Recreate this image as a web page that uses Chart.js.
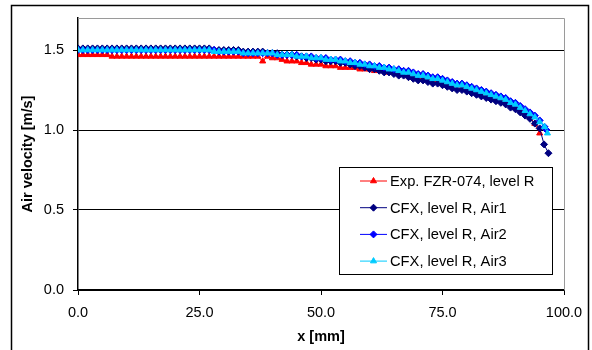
<!DOCTYPE html>
<html>
<head>
<meta charset="utf-8">
<script src="https://cdn.jsdelivr.net/npm/chart.js@4"></script>
<style>
    body { margin: 0; background: #ffffff; }
    #chartBox { position: relative; width: 592px; height: 350px; }
</style>
</head>
<body>
<div id="chartBox"><canvas id="velChart" width="592" height="350"></canvas></div>
<script>
// Datos
const seriesNames = ['Exp. FZR-074, level R', 'CFX, level R, Air1', 'CFX, level R, Air2', 'CFX, level R, Air3'];
const xTickValues = [0, 25, 50, 75, 100];
const yTickValues = [0, 0.5, 1.0, 1.5];

const xExp = [0,1,2,3,4,5,6,7,8,9,10,11,12,13,14,15,16,17,18,19,20,21,22,23,24,25,26,27,28,29,30,31,32,33,34,35,36,37,38,39,40,41,42,43,44,45,46,47,48,49,50,51,52,53,54,55,56,57,58,59,60,61,62,63,64,65,66,67,68,69,70,71,72,73,74,75,76,77,78,79,80,81,82,83,84,85,86,87,88,89,90,91,92,93,94,95];
const vExp = [
    1.47,1.47,1.47,1.47,1.47,1.47,1.47,1.46,1.46,1.46,
    1.46,1.46,1.46,1.46,1.46,1.46,1.46,1.46,1.46,1.46,
    1.46,1.46,1.46,1.46,1.46,1.46,1.46,1.46,1.46,1.46,
    1.46,1.46,1.46,1.46,1.46,1.46,1.46,1.46,1.43,1.46,
    1.45,1.45,1.44,1.43,1.43,1.43,1.42,1.42,1.41,1.41,
    1.41,1.40,1.40,1.40,1.39,1.39,1.39,1.39,1.38,1.38,
    1.38,1.37,1.37,1.37,1.36,1.36,1.36,1.35,1.35,1.34,
    1.34,1.33,1.32,1.32,1.31,1.30,1.29,1.28,1.28,1.27,
    1.26,1.25,1.24,1.23,1.22,1.21,1.20,1.19,1.18,1.16,
    1.15,1.13,1.11,1.08,1.04,0.98
];

const xAir1 = [0,1,2,3,4,5,6,7,8,9,10,11,12,13,14,15,16,17,18,19,20,21,22,23,24,25,26,27,28,29,30,31,32,33,34,35,36,37,38,39,40,41,42,43,44,45,46,47,48,49,50,51,52,53,54,55,56,57,58,59,60,61,62,63,64,65,66,67,68,69,70,71,72,73,74,75,76,77,78,79,80,81,82,83,84,85,86,87,88,89,90,91,92,93,94,95,95.9,96.8];
const vAir1 = [
    1.51,1.51,1.51,1.51,1.51,1.51,1.51,1.51,1.51,1.51,
    1.51,1.51,1.51,1.51,1.51,1.51,1.51,1.51,1.51,1.51,
    1.51,1.51,1.51,1.51,1.51,1.51,1.51,1.51,1.50,1.50,
    1.50,1.50,1.50,1.50,1.49,1.49,1.49,1.49,1.49,1.48,
    1.48,1.48,1.47,1.47,1.47,1.46,1.46,1.45,1.45,1.44,
    1.44,1.43,1.43,1.43,1.42,1.42,1.41,1.40,1.40,1.39,
    1.38,1.38,1.37,1.36,1.36,1.35,1.34,1.34,1.33,1.32,
    1.31,1.31,1.30,1.29,1.29,1.28,1.27,1.26,1.25,1.25,
    1.24,1.23,1.22,1.21,1.20,1.19,1.18,1.17,1.16,1.14,
    1.13,1.11,1.09,1.07,1.04,1.01,0.91,0.855
];

const xAir2 = [0,1,2,3,4,5,6,7,8,9,10,11,12,13,14,15,16,17,18,19,20,21,22,23,24,25,26,27,28,29,30,31,32,33,34,35,36,37,38,39,40,41,42,43,44,45,46,47,48,49,50,51,52,53,54,55,56,57,58,59,60,61,62,63,64,65,66,67,68,69,70,71,72,73,74,75,76,77,78,79,80,81,82,83,84,85,86,87,88,89,90,91,92,93,94,95,96,96.4];
const vAir2 = [
    1.50,1.50,1.50,1.50,1.50,1.50,1.50,1.50,1.50,1.50,
    1.50,1.50,1.50,1.50,1.50,1.50,1.50,1.50,1.50,1.50,
    1.50,1.50,1.50,1.50,1.50,1.50,1.50,1.50,1.50,1.49,
    1.49,1.49,1.49,1.49,1.48,1.48,1.48,1.48,1.48,1.48,
    1.48,1.47,1.47,1.47,1.47,1.47,1.46,1.46,1.46,1.45,
    1.45,1.45,1.44,1.44,1.44,1.43,1.43,1.42,1.42,1.41,
    1.41,1.40,1.40,1.39,1.39,1.38,1.38,1.37,1.37,1.36,
    1.35,1.35,1.34,1.33,1.33,1.32,1.31,1.30,1.29,1.29,
    1.28,1.27,1.26,1.25,1.24,1.23,1.22,1.21,1.20,1.18,
    1.17,1.15,1.13,1.11,1.09,1.06,1.02,1.00
];

const xAir3 = [0,1,2,3,4,5,6,7,8,9,10,11,12,13,14,15,16,17,18,19,20,21,22,23,24,25,26,27,28,29,30,31,32,33,34,35,36,37,38,39,40,41,42,43,44,45,46,47,48,49,50,51,52,53,54,55,56,57,58,59,60,61,62,63,64,65,66,67,68,69,70,71,72,73,74,75,76,77,78,79,80,81,82,83,84,85,86,87,88,89,90,91,92,93,94,95,96,96.6];
const vAir3 = [
    1.50,1.50,1.50,1.50,1.50,1.50,1.50,1.50,1.50,1.50,
    1.50,1.50,1.50,1.50,1.50,1.50,1.50,1.50,1.50,1.50,
    1.50,1.50,1.50,1.50,1.50,1.50,1.50,1.50,1.49,1.49,
    1.49,1.49,1.49,1.49,1.48,1.48,1.48,1.48,1.48,1.48,
    1.48,1.47,1.47,1.47,1.47,1.46,1.46,1.46,1.45,1.45,
    1.45,1.44,1.44,1.44,1.43,1.43,1.42,1.42,1.41,1.41,
    1.40,1.40,1.39,1.39,1.38,1.38,1.37,1.36,1.36,1.35,
    1.34,1.34,1.33,1.32,1.32,1.31,1.30,1.29,1.28,1.28,
    1.27,1.26,1.25,1.24,1.23,1.22,1.21,1.20,1.19,1.17,
    1.16,1.14,1.12,1.10,1.08,1.05,1.02,0.98
];

const seriesColors = ['#FF0000', '#000080', '#0000FF', '#00CCFF'];
const seriesMarkers = ['triangle', 'rectRot', 'rectRot', 'triangle'];

const FONT = '"Liberation Sans", Arial, sans-serif';

// Armar los puntos x,y
const toPoints = (xs, ys) => xs.map((x, i) => ({ x: x, y: ys[i] }));

const allX = [xExp, xAir1, xAir2, xAir3];
const allY = [vExp, vAir1, vAir2, vAir3];

const datasets = seriesNames.map((name, i) => ({
    label: name,
    data: toPoints(allX[i], allY[i]),
    borderColor: seriesColors[i],
    backgroundColor: seriesColors[i],
    pointBackgroundColor: seriesColors[i],
    pointBorderColor: seriesColors[i],
    pointStyle: seriesMarkers[i],
    pointRadius: 3.5,
    pointBorderWidth: 1,
    borderWidth: 1,
    showLine: true,
    order: 3 - i
}));

// Marco exterior y borde del area de grafico
const framePlugin = {
    id: 'framePlugin',
    beforeDraw(chart) {
        const ctx = chart.ctx;
        ctx.save();
        ctx.fillStyle = '#ffffff';
        ctx.fillRect(0, 0, chart.width, chart.height);
        ctx.strokeStyle = '#000000';
        ctx.lineWidth = 1.5;
        ctx.strokeRect(11.5, 5.5, 577, 360);
        ctx.restore();
    },
    beforeDatasetsDraw(chart) {
        const a = chart.chartArea;
        const ctx = chart.ctx;
        ctx.save();
        ctx.strokeStyle = '#9a9a9a';
        ctx.lineWidth = 1;
        ctx.beginPath();
        ctx.moveTo(a.left, a.top + 0.5);
        ctx.lineTo(a.right + 0.5, a.top + 0.5);
        ctx.lineTo(a.right + 0.5, a.bottom);
        ctx.stroke();
        ctx.restore();
    }
};

// Leyenda dentro del area de grafico
const legendPlugin = {
    id: 'legendPlugin',
    afterDraw(chart) {
        const ctx = chart.ctx;
        const box = { x: 339.5, y: 167.5, w: 213, h: 107 };
        ctx.save();
        ctx.fillStyle = '#ffffff';
        ctx.fillRect(box.x, box.y, box.w, box.h);
        ctx.strokeStyle = '#000000';
        ctx.lineWidth = 1;
        ctx.strokeRect(box.x, box.y, box.w, box.h);
        ctx.font = '14.7px ' + FONT;
        ctx.textBaseline = 'middle';
        ctx.textAlign = 'left';
        seriesNames.forEach((name, i) => {
            const y = 181 + i * 26.7;
            ctx.strokeStyle = seriesColors[i];
            ctx.lineWidth = 1;
            ctx.beginPath();
            ctx.moveTo(360, y);
            ctx.lineTo(387, y);
            ctx.stroke();
            ctx.fillStyle = seriesColors[i];
            Chart.helpers.drawPoint(ctx, { pointStyle: seriesMarkers[i], radius: 3.5, rotation: 0, borderWidth: 1 }, 373.5, y);
            ctx.fillStyle = '#000000';
            ctx.fillText(name, 390, y + 1);
        });
        ctx.restore();
    }
};

const ctx = document.getElementById('velChart');

new Chart(ctx, {
    type: 'scatter',
    data: { datasets: datasets },
    options: {
        responsive: false,
        animation: false,
        devicePixelRatio: 1,
        layout: { padding: { top: 18, right: 28, left: 0, bottom: 0 } },
        plugins: {
            legend: { display: false },
            tooltip: { enabled: false }
        },
        scales: {
            x: {
                type: 'linear',
                min: 0,
                max: 100,
                afterBuildTicks: (scale) => { scale.ticks = xTickValues.map(v => ({ value: v })); },
                afterFit: (scale) => { scale.height = 60; },
                border: { color: '#000000', width: 1.5 },
                grid: { drawOnChartArea: false, drawTicks: true, tickLength: 5, color: '#000000' },
                ticks: {
                    padding: 9,
                    color: '#000000',
                    font: { family: FONT, size: 14.5 },
                    maxRotation: 0,
                    callback: (v) => Number(v).toFixed(1)
                },
                title: {
                    display: true,
                    text: 'x [mm]',
                    color: '#000000',
                    font: { family: FONT, size: 14.5, weight: 'bold' },
                    padding: { top: 0, bottom: 4 }
                }
            },
            y: {
                type: 'linear',
                min: 0,
                max: 1.7,
                afterBuildTicks: (scale) => { scale.ticks = yTickValues.map(v => ({ value: v })); },
                afterFit: (scale) => { scale.width = 78; },
                border: { color: '#000000', width: 1.5 },
                grid: { drawOnChartArea: true, drawTicks: true, tickLength: 5, color: '#000000', lineWidth: 1 },
                ticks: {
                    padding: 9,
                    color: '#000000',
                    font: { family: FONT, size: 14.5 },
                    callback: (v) => Number(v).toFixed(1)
                },
                title: {
                    display: true,
                    text: 'Air velocity [m/s]',
                    color: '#000000',
                    font: { family: FONT, size: 14.5, weight: 'bold' },
                    padding: { top: 19, bottom: 0 }
                }
            }
        }
    },
    plugins: [framePlugin, legendPlugin]
});
</script>
</body>
</html>
